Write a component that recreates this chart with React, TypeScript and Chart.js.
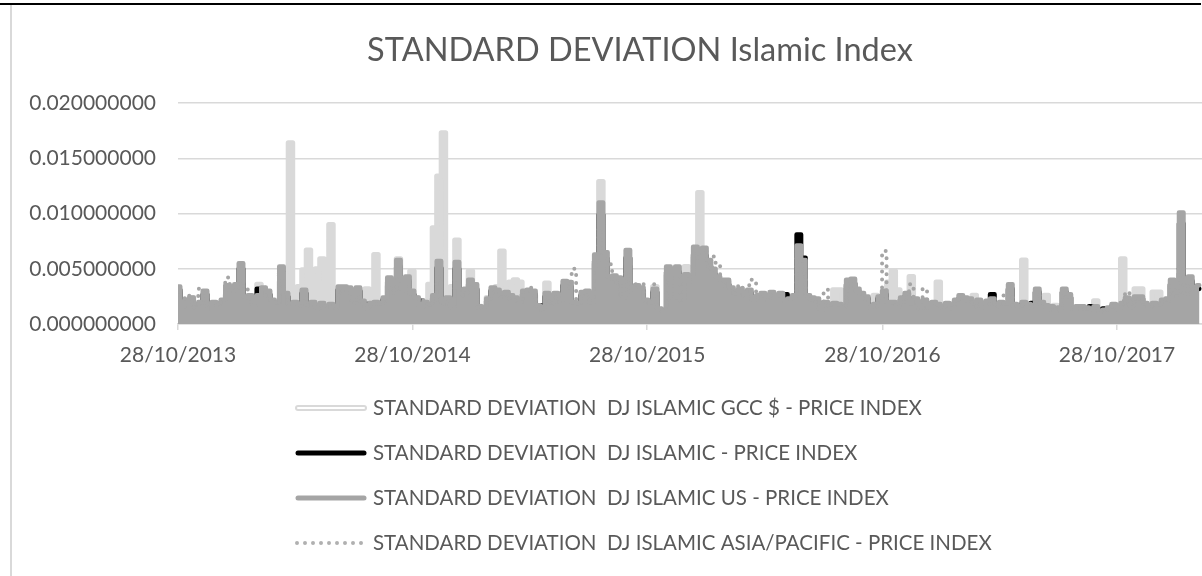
import { useEffect, useRef } from 'react';
import { Chart, registerables } from 'chart.js';

Chart.register(...registerables);

const TITLE = 'STANDARD DEVIATION Islamic Index';
const START_DATE = '2013-10-28';
const TICK_DATES = ['2013-10-28', '2014-10-28', '2015-10-28', '2016-10-28', '2017-10-28'];
const SERIES_NAMES = [
  'STANDARD DEVIATION  DJ ISLAMIC GCC $ - PRICE INDEX',
  'STANDARD DEVIATION  DJ ISLAMIC - PRICE INDEX',
  'STANDARD DEVIATION  DJ ISLAMIC US - PRICE INDEX',
  'STANDARD DEVIATION  DJ ISLAMIC ASIA/PACIFIC - PRICE INDEX',
];

// weekly readings, starting 28/10/2013
const GCC = [
  .0028, .0014, .0018, .0024, .0016, .0018, .0022, .0015, .0017, .0016,
  .0019, .0026, .0028, .0030, .0036, .0020, .0022, .0016, .0036, .0026,
  .0026, .0019, .0018, .0038, .0048, .0164, .0030, .0034, .0049, .0067,
  .0048, .0050, .0059, .0040, .0090, .0020, .0026, .0028, .0026, .0020,
  .0026, .0018, .0032, .0022, .0063, .0018, .0022, .0034, .0030, .0059,
  .0030, .0036, .0048, .0024, .0016, .0020, .0036, .0087, .0134, .0173,
  .0020, .0034, .0076, .0025, .0030, .0048, .0030, .0016, .0015, .0024,
  .0030, .0034, .0066, .0036, .0038, .0040, .0038, .0026, .0028, .0026,
  .0016, .0014, .0037, .0018, .0024, .0020, .0034, .0032, .0018, .0017,
  .0026, .0026, .0018, .0054, .0129, .0058, .0040, .0038, .0036, .0024,
  .0052, .0026, .0030, .0030, .0020, .0018, .0034, .0013, .0011, .0044,
  .0022, .0046, .0030, .0052, .0040, .0060, .0119, .0056, .0048, .0044,
  .0038, .0036, .0038, .0029, .0026, .0028, .0024, .0027, .0020, .0023,
  .0024, .0022, .0025, .0023, .0025, .0020, .0020, .0023, .0052, .0040,
  .0022, .0020, .0020, .0013, .0018, .0016, .0031, .0031, .0015, .0034,
  .0036, .0028, .0024, .0022, .0018, .0026, .0022, .0026, .0038, .0048,
  .0031, .0022, .0025, .0043, .0020, .0014, .0020, .0015, .0018, .0038,
  .0015, .0017, .0015, .0020, .0022, .0020, .0022, .0026, .0020, .0016,
  .0019, .0020, .0016, .0018, .0018, .0030, .0016, .0015, .0058, .0017,
  .0016, .0028, .0018, .0026, .0015, .0017, .0014, .0028, .0024, .0014,
  .0015, .0014, .0014, .0013, .0021, .0011, .0012, .0014, .0016, .0014,
  .0059, .0022, .0016, .0032, .0032, .0018, .0015, .0029, .0029, .0020,
  .0021, .0034, .0026, .0045, .0027, .0036, .0030, .0032,
];

const DJ_ISLAMIC = [
  .0031, .0014, .0020, .0021, .0016, .0018, .0027, .0014, .0018, .0017,
  .0020, .0032, .0031, .0033, .0050, .0023, .0023, .0017, .0032, .0030,
  .0027, .0020, .0018, .0047, .0025, .0016, .0018, .0015, .0028, .0016,
  .0018, .0014, .0017, .0015, .0016, .0014, .0031, .0030, .0030, .0020,
  .0030, .0019, .0018, .0017, .0018, .0017, .0022, .0038, .0029, .0052,
  .0031, .0039, .0027, .0022, .0021, .0018, .0016, .0023, .0051, .0018,
  .0022, .0015, .0050, .0028, .0029, .0036, .0032, .0015, .0014, .0021,
  .0030, .0028, .0025, .0026, .0023, .0022, .0020, .0027, .0028, .0027,
  .0016, .0017, .0025, .0018, .0024, .0025, .0035, .0034, .0018, .0017,
  .0026, .0027, .0018, .0057, .0099, .0059, .0039, .0040, .0038, .0023,
  .0060, .0027, .0031, .0030, .0020, .0018, .0029, .0013, .0011, .0047,
  .0022, .0047, .0021, .0040, .0040, .0063, .0061, .0062, .0052, .0045,
  .0039, .0036, .0036, .0030, .0025, .0029, .0024, .0028, .0020, .0023,
  .0025, .0022, .0026, .0023, .0025, .0027, .0021, .0023, .0081, .0060,
  .0023, .0022, .0021, .0016, .0018, .0016, .0017, .0016, .0015, .0036,
  .0037, .0029, .0025, .0023, .0015, .0016, .0023, .0027, .0018, .0018,
  .0015, .0022, .0025, .0017, .0021, .0014, .0020, .0018, .0018, .0016,
  .0014, .0017, .0014, .0020, .0023, .0022, .0021, .0017, .0020, .0015,
  .0019, .0027, .0016, .0018, .0017, .0032, .0016, .0014, .0018, .0016,
  .0019, .0029, .0018, .0015, .0014, .0011, .0014, .0029, .0024, .0014,
  .0014, .0015, .0014, .0016, .0015, .0013, .0014, .0014, .0016, .0014,
  .0017, .0022, .0015, .0023, .0023, .0017, .0014, .0017, .0016, .0020,
  .0021, .0036, .0026, .0091, .0027, .0039, .0030, .0032,
];

const US = [
  .0034, .0016, .0022, .0024, .0018, .0020, .0030, .0016, .0020, .0019,
  .0022, .0035, .0034, .0036, .0055, .0025, .0026, .0018, .0026, .0033,
  .0030, .0022, .0020, .0052, .0028, .0017, .0020, .0017, .0031, .0018,
  .0020, .0015, .0019, .0016, .0018, .0015, .0034, .0034, .0033, .0022,
  .0033, .0021, .0015, .0019, .0020, .0019, .0024, .0042, .0032, .0058,
  .0034, .0043, .0030, .0024, .0016, .0020, .0018, .0026, .0057, .0020,
  .0024, .0016, .0056, .0031, .0032, .0040, .0036, .0016, .0015, .0023,
  .0033, .0031, .0028, .0029, .0026, .0024, .0022, .0030, .0031, .0030,
  .0017, .0014, .0028, .0020, .0028, .0022, .0039, .0038, .0020, .0019,
  .0029, .0030, .0020, .0063, .0110, .0065, .0043, .0044, .0042, .0026,
  .0067, .0030, .0035, .0033, .0022, .0020, .0032, .0014, .0012, .0052,
  .0024, .0052, .0023, .0045, .0044, .0070, .0068, .0069, .0058, .0050,
  .0043, .0040, .0040, .0033, .0028, .0032, .0027, .0031, .0022, .0026,
  .0028, .0024, .0029, .0026, .0028, .0022, .0023, .0026, .0071, .0058,
  .0026, .0024, .0023, .0014, .0020, .0018, .0019, .0018, .0016, .0040,
  .0041, .0032, .0028, .0025, .0016, .0018, .0025, .0030, .0020, .0020,
  .0017, .0024, .0028, .0019, .0023, .0015, .0022, .0016, .0020, .0018,
  .0016, .0019, .0016, .0022, .0026, .0024, .0023, .0019, .0022, .0017,
  .0021, .0023, .0018, .0020, .0019, .0036, .0018, .0016, .0020, .0018,
  .0017, .0032, .0020, .0017, .0016, .0012, .0015, .0032, .0027, .0015,
  .0016, .0016, .0015, .0014, .0016, .0012, .0013, .0015, .0018, .0015,
  .0019, .0024, .0017, .0025, .0025, .0019, .0016, .0019, .0018, .0022,
  .0023, .0040, .0029, .0101, .0030, .0043, .0033, .0035,
];

const ASIA_PACIFIC = [
  .0029, .0022, .0026, .0020, .0015, .0032, .0022, .0014, .0016, .0018,
  .0020, .0042, .0028, .0030, .0039, .0032, .0020, .0016, .0024, .0034,
  .0024, .0021, .0018, .0039, .0022, .0016, .0018, .0016, .0024, .0017,
  .0018, .0014, .0016, .0015, .0016, .0014, .0026, .0030, .0028, .0019,
  .0026, .0019, .0014, .0016, .0018, .0017, .0020, .0032, .0028, .0040,
  .0028, .0034, .0026, .0022, .0024, .0018, .0017, .0022, .0042, .0018,
  .0021, .0015, .0040, .0026, .0028, .0032, .0030, .0015, .0014, .0020,
  .0028, .0026, .0024, .0025, .0023, .0021, .0020, .0026, .0033, .0026,
  .0016, .0013, .0024, .0018, .0024, .0020, .0032, .0033, .0050, .0018,
  .0024, .0026, .0018, .0052, .0086, .0063, .0054, .0038, .0036, .0024,
  .0050, .0028, .0036, .0036, .0020, .0019, .0036, .0016, .0012, .0040,
  .0022, .0044, .0020, .0038, .0038, .0060, .0062, .0066, .0052, .0061,
  .0054, .0036, .0034, .0030, .0026, .0035, .0026, .0035, .0040, .0024,
  .0026, .0022, .0026, .0024, .0026, .0020, .0021, .0024, .0060, .0046,
  .0022, .0021, .0020, .0013, .0031, .0016, .0017, .0016, .0015, .0030,
  .0034, .0028, .0023, .0022, .0015, .0016, .0022, .0066, .0018, .0018,
  .0015, .0020, .0024, .0036, .0020, .0014, .0032, .0015, .0016, .0016,
  .0014, .0016, .0014, .0018, .0022, .0021, .0020, .0016, .0019, .0015,
  .0018, .0020, .0016, .0017, .0026, .0028, .0015, .0014, .0017, .0015,
  .0015, .0026, .0017, .0015, .0013, .0016, .0013, .0026, .0022, .0013,
  .0014, .0014, .0013, .0013, .0015, .0011, .0012, .0013, .0016, .0013,
  .0016, .0029, .0015, .0022, .0023, .0017, .0015, .0018, .0017, .0020,
  .0021, .0034, .0025, .0056, .0026, .0038, .0029, .0031,
];

const COLORS = ['#d9d9d9', '#000000', '#a5a5a5', '#a5a5a5'];

const DAY_MS = 86400000;
const T0 = Date.parse(START_DATE + 'T00:00:00Z');
const dayOf = (s: string) => Math.round((Date.parse(s + 'T00:00:00Z') - T0) / DAY_MS);
const fmtDay = (d: number) => {
  const dt = new Date(T0 + d * DAY_MS);
  const dd = String(dt.getUTCDate()).padStart(2, '0');
  const mm = String(dt.getUTCMonth() + 1).padStart(2, '0');
  return `${dd}/${mm}/${dt.getUTCFullYear()}`;
};
const weekDay = US.map((_, i) => i * 7);
const toPoints = (arr: number[]) => arr.map((y, i) => ({ x: weekDay[i], y }));

const FONT = 'Lato, "Open Sans", sans-serif';
const TEXT = '#595959';

const stackedLegend = {
  id: 'stackedLegend',
  afterDraw(chart: any) {
    const ctx = chart.ctx as CanvasRenderingContext2D;
    const x0 = 286, x1 = 352, tx = 361;
    const rows = [402, 447, 492, 537];
    ctx.save();
    SERIES_NAMES.forEach((name, k) => {
      const y = rows[k];
      ctx.lineCap = 'round';
      ctx.setLineDash([]);
      if (k === 0) {
        ctx.strokeStyle = COLORS[0];
        ctx.lineWidth = 6;
        ctx.beginPath(); ctx.moveTo(x0, y); ctx.lineTo(x1, y); ctx.stroke();
        ctx.strokeStyle = '#ffffff';
        ctx.lineWidth = 2;
        ctx.beginPath(); ctx.moveTo(x0, y); ctx.lineTo(x1, y); ctx.stroke();
      } else if (k === 3) {
        ctx.strokeStyle = '#b0b0b0';
        ctx.lineWidth = 4;
        ctx.setLineDash([0, 8]);
        ctx.beginPath(); ctx.moveTo(x0 - 1, y); ctx.lineTo(x1 + 1, y); ctx.stroke();
        ctx.setLineDash([]);
      } else {
        ctx.strokeStyle = COLORS[k];
        ctx.lineWidth = 5;
        ctx.beginPath(); ctx.moveTo(x0, y); ctx.lineTo(x1, y); ctx.stroke();
      }
      ctx.fillStyle = TEXT;
      ctx.font = `20.5px ${FONT}`;
      ctx.textBaseline = 'middle';
      ctx.textAlign = 'left';
      ctx.fillText(name, tx, y);
    });
    ctx.restore();
  },
};

export default function App() {
  const ref = useRef<HTMLCanvasElement | null>(null);

  useEffect(() => {
    if (!ref.current) return;
    const tickDays = TICK_DATES.map(dayOf);
    const line = { borderCapStyle: 'round', borderJoinStyle: 'round', stepped: 'middle' };
    const chart = new Chart(ref.current, {
      type: 'line',
      data: {
        datasets: [
          {
            ...line, label: SERIES_NAMES[3], data: toPoints(ASIA_PACIFIC), borderColor: COLORS[3],
            borderWidth: 4, borderDash: [0, 8], fill: false, order: 1,
          },
          {
            ...line, label: SERIES_NAMES[2], data: toPoints(US), borderColor: COLORS[2], backgroundColor: COLORS[2],
            borderWidth: 4.5, fill: 'origin', order: 2,
          },
          {
            ...line, label: SERIES_NAMES[1], data: toPoints(DJ_ISLAMIC), borderColor: COLORS[1], backgroundColor: COLORS[1],
            borderWidth: 4.5, fill: 'origin', order: 3,
          },
          {
            ...line, label: SERIES_NAMES[0], data: toPoints(GCC), borderColor: COLORS[0], backgroundColor: COLORS[0],
            borderWidth: 5, fill: 'origin', order: 4,
          },
        ] as any,
      },
      options: {
        responsive: false,
        animation: false,
        events: [],
        layout: { padding: { left: 0, right: 8, top: 0, bottom: 192 } },
        elements: { point: { radius: 0 }, line: { tension: 0 } },
        plugins: {
          legend: { display: false },
          tooltip: { enabled: false },
          title: {
            display: true, text: TITLE, color: TEXT,
            font: { family: FONT, size: 32.5, weight: 'normal' },
            padding: { top: 25, bottom: 33 },
          },
        },
        scales: {
          x: {
            type: 'linear', min: 0, max: 1696,
            afterBuildTicks: (s: any) => { s.ticks = tickDays.map((v) => ({ value: v })); },
            afterFit: (s: any) => { s.height = 60; },
            ticks: {
              callback: (v: any) => fmtDay(Number(v)), color: TEXT,
              font: { family: FONT, size: 21 }, padding: 13, maxRotation: 0, autoSkip: false,
            },
            grid: { drawOnChartArea: false, drawTicks: true, tickLength: 6, color: '#d9d9d9', lineWidth: 1.5 },
            border: { display: true, color: '#d9d9d9', width: 1.5 },
          },
          y: {
            min: 0, max: 0.02,
            afterFit: (s: any) => { s.width = 166; },
            ticks: {
              stepSize: 0.005, callback: (v: any) => Number(v).toFixed(9), color: TEXT,
              font: { family: FONT, size: 21 }, padding: 22,
            },
            grid: { color: '#d9d9d9', lineWidth: 1.5, drawTicks: false },
            border: { display: false },
          },
        },
      } as any,
      plugins: [stackedLegend],
    });
    return () => chart.destroy();
  }, []);

  return (
    <>
      <div style={{ position: 'fixed', left: 0, top: 3, width: 1201, height: 2, background: '#000' }} />
      <div style={{ position: 'fixed', left: 10, top: 5, width: 2, height: 580, background: '#d9d9d9' }} />
      <div style={{ position: 'fixed', left: 12, top: 6, width: 1264, height: 570, background: '#fff' }}>
        <canvas ref={ref} width={1264} height={570} style={{ width: 1264, height: 570, display: 'block' }} />
      </div>
    </>
  );
}
